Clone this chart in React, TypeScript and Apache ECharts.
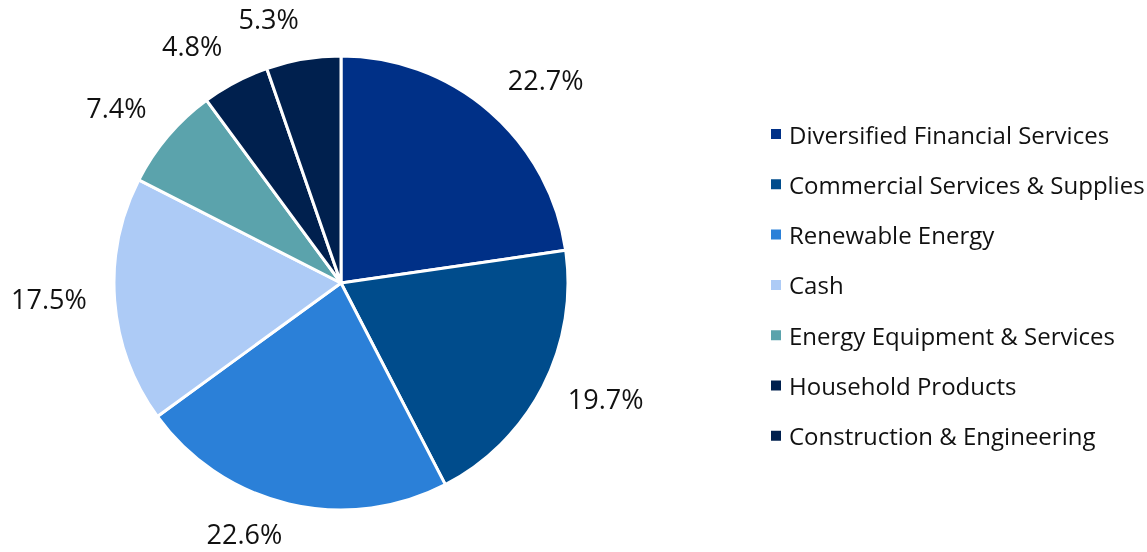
import React, { useEffect, useRef } from "react";
import * as echarts from "echarts";

const categories = [
  "Diversified Financial Services",
  "Commercial Services & Supplies",
  "Renewable Energy",
  "Cash",
  "Energy Equipment & Services",
  "Household Products",
  "Construction & Engineering",
];
const values = [22.7, 19.7, 22.6, 17.5, 7.4, 4.8, 5.3];
const colors = ["#003087", "#004C8C", "#2B80D8", "#ADCBF6", "#5BA3AC", "#00204E", "#00204E"];

const CX = 341;
const CY = 283;
const RADIUS = 227;
const LABEL_R = 255;
const LABEL_VSHIFT = 8;
const LABEL_UP = 5;

export default function App() {
  const ref = useRef<HTMLDivElement>(null);
  useEffect(() => {
    if (!ref.current) return;
    const chart = echarts.init(ref.current, undefined, { renderer: "svg" });
    const font = "'Open Sans', Lato, sans-serif";
    const total = values.reduce((a, b) => a + b, 0);
    const mids: number[] = [];
    let cum = 0;
    values.forEach((v) => {
      mids.push(((cum + v / 2) / total) * Math.PI * 2);
      cum += v;
    });
    chart.setOption({
      animation: false,
      legend: {
        orient: "vertical",
        left: 764,
        top: 117,
        icon: "rect",
        itemWidth: 12,
        itemHeight: 12,
        itemGap: 26.3,
        data: categories,
        textStyle: { fontFamily: font, fontSize: 24, color: "#111", lineHeight: 24, padding: [0, 0, 0, 2] },
      },
      series: [
        {
          type: "pie",
          center: [CX, CY],
          radius: RADIUS,
          startAngle: 90,
          clockwise: true,
          avoidLabelOverlap: false,
          itemStyle: { borderColor: "#fff", borderWidth: 3 },
          label: {
            show: true,
            position: "outside",
            formatter: (p: any) => p.value.toFixed(1) + "%",
            fontFamily: font,
            fontSize: 27,
            lineHeight: 22,
            color: "#111",
          },
          labelLine: { show: false, length: 20, length2: 0 },
          labelLayout: (params: any) => {
            const t = mids[params.dataIndex];
            const s = Math.sin(t);
            const c = Math.cos(t);
            return {
              x: CX + LABEL_R * s,
              y: CY - LABEL_R * c - c * LABEL_VSHIFT - LABEL_UP,
              align: s >= 0 ? "left" : "right",
              verticalAlign: "middle",
            };
          },
          emphasis: { disabled: true },
          data: categories.map((c, i) => ({ name: c, value: values[i], itemStyle: { color: colors[i] } })),
        },
      ],
    });
    return () => chart.dispose();
  }, []);
  return <div ref={ref} style={{ position: "fixed", left: 0, top: 0, width: 1147, height: 552 }} />;
}
